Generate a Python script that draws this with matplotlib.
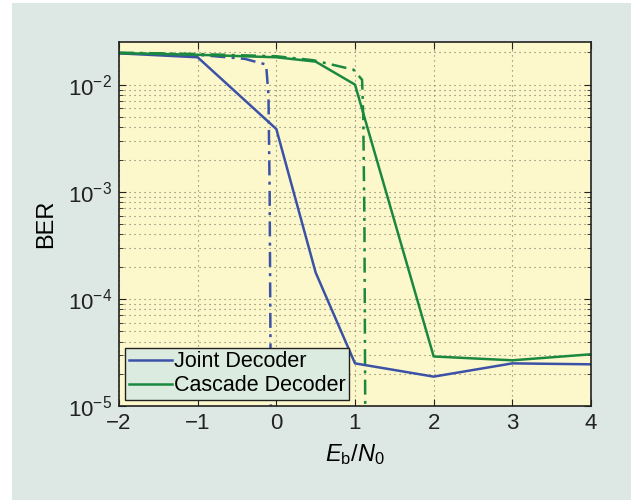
import matplotlib
matplotlib.use('Agg')
import matplotlib.pyplot as plt
from matplotlib.patches import Rectangle
from matplotlib.ticker import LogLocator, NullFormatter, FixedLocator

plt.rcParams['font.family'] = ['Liberation Sans', 'DejaVu Sans']
plt.rcParams['mathtext.fontset'] = 'custom'
plt.rcParams['mathtext.rm'] = 'Liberation Sans'
plt.rcParams['mathtext.it'] = 'Liberation Sans:italic'

# simulated BER curves
ebn0 = [-2, -1, 0, 0.5, 1, 2, 3, 4]
ber_joint = [1.96e-2, 1.8e-2, 3.85e-3, 1.76e-4, 2.5e-5, 1.88e-5, 2.5e-5, 2.45e-5]
ber_cascade = [1.97e-2, 1.9e-2, 1.8e-2, 1.64e-2, 1.0e-2, 2.9e-5, 2.67e-5, 3.04e-5]

# threshold curves (dash-dot)
thr_joint_x = [-2, -1, -0.4, -0.13, -0.1, -0.085, -0.07]
thr_joint_y = [1.97e-2, 1.9e-2, 1.74e-2, 1.54e-2, 8e-3, 1e-3, 9e-6]
thr_casc_x = [-2, -1, 0, 0.47, 0.98, 1.09, 1.105, 1.12, 1.13]
thr_casc_y = [1.99e-2, 1.93e-2, 1.84e-2, 1.69e-2, 1.38e-2, 1.11e-2, 5e-3, 5e-4, 9e-6]

blue = '#3b52a6'
green = '#1b8840'
panel = '#dde8e4'

fig = plt.figure(figsize=(6.4, 5.0), dpi=100, facecolor='white')
fig.patches.append(Rectangle((12/640, 0), (631-12)/640, 1 - 3/500,
                             transform=fig.transFigure, facecolor=panel,
                             edgecolor='none', zorder=-10))
ax = fig.add_axes([119/640, 1 - 406/500, (591-119)/640, (406-42)/500])
ax.set_facecolor('#fdf8cb')

ax.semilogy(thr_joint_x, thr_joint_y, color=blue, lw=1.8, dashes=(6, 2.5, 1.2, 2.5))
ax.semilogy(thr_casc_x, thr_casc_y, color=green, lw=1.8, dashes=(6, 2.5, 1.2, 2.5))
ax.semilogy(ebn0, ber_joint, color=blue, lw=1.8, label='Joint Decoder')
ax.semilogy(ebn0, ber_cascade, color=green, lw=1.8, label='Cascade Decoder')

ax.set_xlim(-2, 4)
ax.set_ylim(1e-5, 2.5e-2)
ax.xaxis.set_major_locator(FixedLocator([-2, -1, 0, 1, 2, 3, 4]))
ax.set_xticklabels(['\u22122', '\u22121', '0', '1', '2', '3', '4'])
ax.yaxis.set_major_locator(FixedLocator([1e-5, 1e-4, 1e-3, 1e-2]))
ax.set_yticklabels([r'$\mathregular{10^{-5}}$', r'$\mathregular{10^{-4}}$',
                    r'$\mathregular{10^{-3}}$', r'$\mathregular{10^{-2}}$'])
ax.yaxis.set_minor_locator(LogLocator(base=10, subs=range(2, 10)))
ax.yaxis.set_minor_formatter(NullFormatter())

ax.tick_params(which='both', direction='in', top=True, right=True,
               labelsize=16, colors='#222222')
ax.tick_params(which='major', length=5, pad=5)
ax.tick_params(which='minor', length=3)
ax.grid(True, which='major', linestyle=(0, (1, 3.5)), color='#777766', lw=0.8)
ax.grid(True, which='minor', axis='y', linestyle=(0, (1, 3.5)), color='#777766', lw=0.8)
for s in ax.spines.values():
    s.set_linewidth(1.2)
    s.set_color('#222222')

ax.set_xlabel(r'$\mathit{E}_\mathrm{b}/\mathit{N}_\mathrm{0}$', fontsize=17, labelpad=6)
ax.set_ylabel('BER', fontsize=17, labelpad=8)

leg = ax.legend(loc='lower left', fontsize=15.5, fancybox=False, framealpha=1,
                facecolor='#dcebe0', edgecolor='#222222', handlelength=2.0,
                handletextpad=0.1, borderpad=0.15, labelspacing=0.15,
                borderaxespad=0.3)
leg.get_frame().set_linewidth(1.0)

plt.savefig('out.png', dpi=100, facecolor=fig.get_facecolor())
